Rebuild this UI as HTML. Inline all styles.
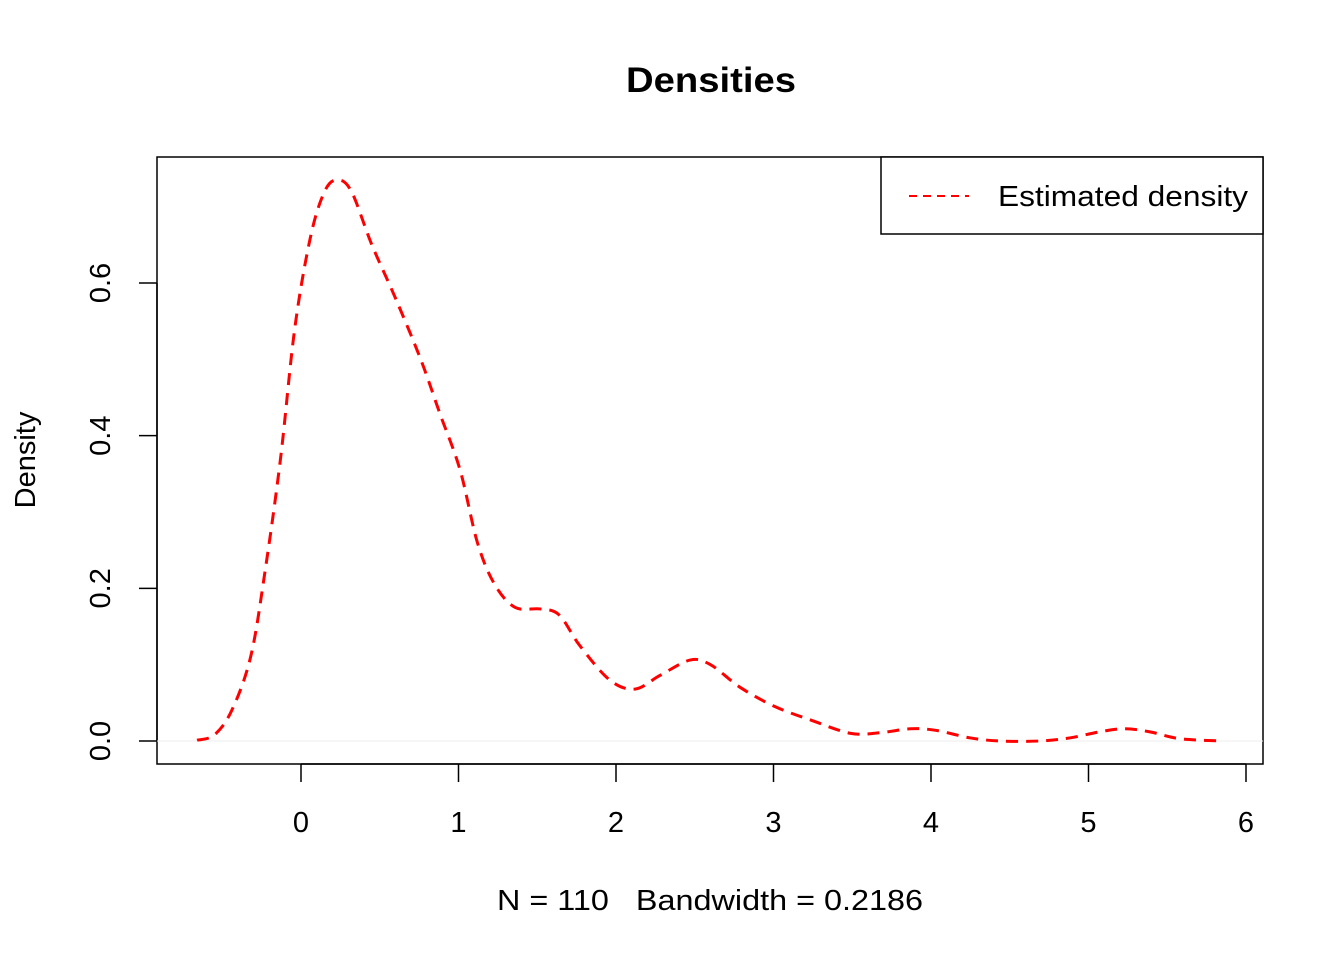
<!DOCTYPE html>
<html><head><meta charset="utf-8"><style>
html,body{margin:0;padding:0;background:#fff}
svg text{font-family:"Liberation Sans",Arial,sans-serif;fill:#000;white-space:pre}
</style></head><body>
<svg id="chart" width="1344" height="960" viewBox="0 0 1344 960">
<text x="626" y="92" font-size="35" font-weight="bold" textLength="170" lengthAdjust="spacingAndGlyphs">Densities</text>
<rect x="157" y="157" width="1106" height="607" fill="none" stroke="#000" stroke-width="1.5"/>
<g id="xaxis"></g>
<g id="yaxis"></g>
<line id="zero" stroke="#eee" stroke-width="1"/>
<path id="curve" fill="none" stroke="#ff0000" stroke-width="3" stroke-dasharray="12,8"/>
<text x="497" y="910" font-size="29" xml:space="preserve" textLength="426" lengthAdjust="spacingAndGlyphs">N = 110   Bandwidth = 0.2186</text>
<text transform="translate(35,460) rotate(-90)" font-size="29" text-anchor="middle">Density</text>
<g>
<rect x="881" y="157" width="382" height="77" fill="#fff" stroke="#000" stroke-width="1.5"/>
<line x1="909" y1="196" x2="969" y2="196" stroke="#ff0000" stroke-width="2" stroke-dasharray="8,6"/>
<text x="998" y="206" font-size="29" textLength="250" lengthAdjust="spacingAndGlyphs">Estimated density</text>
</g>
</svg>
<script>
const xs=[-0.66,-0.55,-0.44,-0.32,-0.23,-0.13,-0.04,0.06,0.15,0.23,0.32,0.45,0.60,0.76,0.88,1.01,1.12,1.23,1.36,1.52,1.64,1.77,1.96,2.12,2.28,2.47,2.60,2.79,3.01,3.23,3.49,3.68,3.87,4.03,4.25,4.44,4.69,4.88,5.07,5.23,5.39,5.58,5.85];
const ys=[0.001,0.008,0.04,0.11,0.22,0.37,0.54,0.66,0.72,0.735,0.72,0.65,0.58,0.50,0.43,0.355,0.26,0.205,0.175,0.173,0.165,0.125,0.08,0.068,0.086,0.106,0.1,0.07,0.045,0.028,0.01,0.011,0.016,0.014,0.004,0.0,0.0,0.004,0.012,0.016,0.012,0.003,0.0];
const xTicks=[0,1,2,3,4,5,6];
const yTicks=[0,0.2,0.4,0.6];
const yTickLabels=["0.0","0.2","0.4","0.6"];
const X=v=>301+v*157.5, Y=v=>741-v*763.3;
const NS="http://www.w3.org/2000/svg";
const xa=document.getElementById('xaxis'), ya=document.getElementById('yaxis');
function mk(t,a,p){const e=document.createElementNS(NS,t);for(const k in a)e.setAttribute(k,a[k]);p.appendChild(e);return e;}
mk('line',{x1:X(xTicks[0]),x2:X(xTicks[xTicks.length-1]),y1:764,y2:764,stroke:'#000','stroke-width':1.5},xa);
xTicks.forEach(t=>{
 const l=mk('line',{x1:X(t),x2:X(t),y1:764,y2:782,stroke:'#000','stroke-width':1.5},xa);
 
 
 const tx=mk('text',{x:X(t),y:832,'font-size':29,'text-anchor':'middle'},xa);tx.textContent=t;
 
 
});
mk('line',{x1:157,x2:157,y1:Y(yTicks[0]),y2:Y(yTicks[yTicks.length-1]),stroke:'#000','stroke-width':1.5},ya);
yTicks.forEach((t,i)=>{
 const l=mk('line',{x1:139,x2:157,y1:Y(t),y2:Y(t),stroke:'#000','stroke-width':1.5},ya);
 
 
 const tx=mk('text',{transform:`translate(110,${Y(t)}) rotate(-90)`,'font-size':29,'text-anchor':'middle'},ya);tx.textContent=yTickLabels[i];
 
 
});
const z=document.getElementById('zero');
z.setAttribute('x1',157);z.setAttribute('x2',1263);z.setAttribute('y1',Y(0));z.setAttribute('y2',Y(0));
const P=xs.map((x,i)=>[X(x),Y(ys[i])]);
let d=`M${P[0][0]},${P[0][1]}`;
for(let i=0;i<P.length-1;i++){
 const p0=P[Math.max(i-1,0)],p1=P[i],p2=P[i+1],p3=P[Math.min(i+2,P.length-1)];
 d+=` C${p1[0]+(p2[0]-p0[0])/6},${p1[1]+(p2[1]-p0[1])/6} ${p2[0]-(p3[0]-p1[0])/6},${p2[1]-(p3[1]-p1[1])/6} ${p2[0]},${p2[1]}`;
}
document.getElementById('curve').setAttribute('d',d);
</script>
</body></html>
